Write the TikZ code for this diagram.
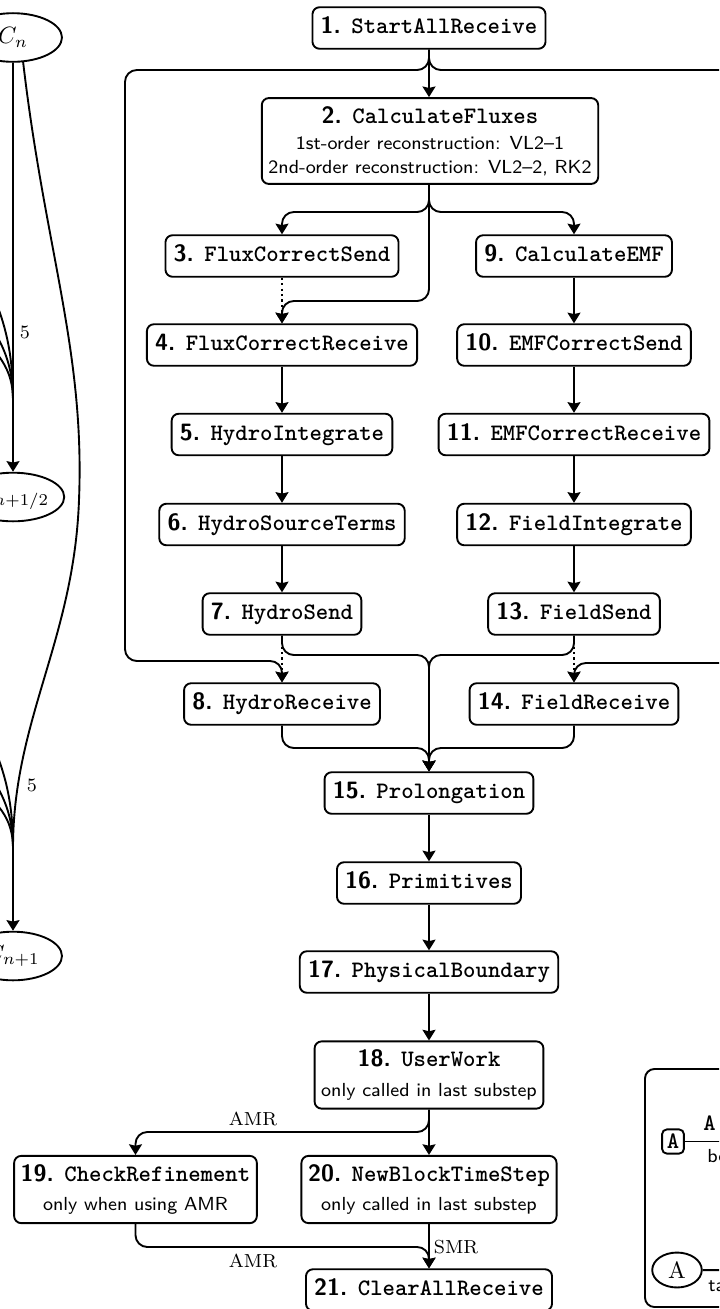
\documentclass[tikz,border=0pt]{standalone}
\usepackage{fontspec}
\usetikzlibrary{arrows.meta,shapes.geometric}
\newcommand{\tasklbl}[2]{{\sffamily\bfseries #1.} {\ttfamily\bfseries #2}}
\begin{document}
\begin{tikzpicture}[x=0.4237pt,y=-0.4237pt,
  task/.style={draw, thick, rounded corners=3pt, fill=white, inner xsep=3.5pt, inner ysep=4.3pt, text height=7pt, text depth=2pt},
  taskm/.style={draw, thick, rounded corners=3pt, fill=white, inner xsep=2.8pt, inner ysep=3.6pt, align=center, font=\footnotesize\sffamily},
  flow/.style={thick, -{Stealth[length=4.5pt,width=5.5pt,inset=0.6pt]}, rounded corners=5pt},
  dots/.style={flow, dash pattern=on 0.9pt off 1.4pt},
  plain/.style={thick},
  cyc/.style={draw, thick, ellipse, minimum width=41.5pt, minimum height=20.6pt, inner sep=0pt},
  lbl/.style={inner sep=0pt, font=\footnotesize}]
\useasboundingbox (0,0) rectangle (719,1309);
\clip (0,0) rectangle (719,1309);

% ---------- left graph (partial) ----------
\node[cyc] (cn) at (13,37.5) {$C_n$};
\node[cyc] (ch) at (13,497) {$C_{n+1/2}$};
\node[cyc] (cf) at (13,956) {$C_{n+1}$};
\coordinate (m1) at (13,400);
\coordinate (m2) at (13,848);
\draw[flow] (cn) -- (ch);
\draw[plain] (-40,240) .. controls (5,300) and (13,350) .. (m1);
\draw[plain] (-40,290) .. controls (0,330) and (13,360) .. (m1);
\draw[plain] (-40,320) .. controls (0,350) and (13,370) .. (m1);
\draw[plain] (23,61) .. controls (45,250) and (85,350) .. (79,500) .. controls (74,640) and (13,720) .. (m2);
\draw[plain] (-40,690) .. controls (5,750) and (13,800) .. (m2);
\draw[plain] (-40,740) .. controls (0,780) and (13,810) .. (m2);
\draw[plain] (-40,775) .. controls (0,800) and (13,820) .. (m2);
\draw[flow] (m2) -- (cf);
\node[lbl] at (25,332) {5};
\node[lbl] at (32,785) {5};

% ---------- tasks ----------
\node[task] (n1) at (429,28) {\tasklbl{1}{StartAllReceive}};
\node[taskm] (n2) at (430,141) {{\normalsize\tasklbl{2}{CalculateFluxes}}\\[1.4pt]1st-order reconstruction: VL2--1\\[0.6pt]2nd-order reconstruction: VL2--2, RK2};
\node[task] (n3) at (282,256) {\tasklbl{3}{FluxCorrectSend}};
\node[task] (n4) at (282,345) {\tasklbl{4}{FluxCorrectReceive}};
\node[task] (n5) at (282,434.5) {\tasklbl{5}{HydroIntegrate}};
\node[task] (n6) at (282,524.5) {\tasklbl{6}{HydroSourceTerms}};
\node[task] (n7) at (282,614) {\tasklbl{7}{HydroSend}};
\node[task] (n8) at (282,704) {\tasklbl{8}{HydroReceive}};
\node[task] (n9) at (574,256) {\tasklbl{9}{CalculateEMF}};
\node[task] (n10) at (574,345) {\tasklbl{10}{EMFCorrectSend}};
\node[task] (n11) at (574,434.5) {\tasklbl{11}{EMFCorrectReceive}};
\node[task] (n12) at (574,524.5) {\tasklbl{12}{FieldIntegrate}};
\node[task] (n13) at (574,614) {\tasklbl{13}{FieldSend}};
\node[task] (n14) at (574,704) {\tasklbl{14}{FieldReceive}};
\node[task] (n15) at (429,793) {\tasklbl{15}{Prolongation}};
\node[task] (n16) at (429,883) {\tasklbl{16}{Primitives}};
\node[task] (n17) at (429,972) {\tasklbl{17}{PhysicalBoundary}};
\node[taskm] (n18) at (429,1075) {{\normalsize\tasklbl{18}{UserWork}}\\[3pt]only called in last substep};
\node[taskm] (n19) at (135.5,1189.5) {{\normalsize\tasklbl{19}{CheckRefinement}}\\[3pt]only when using AMR};
\node[taskm] (n20) at (429,1189.5) {{\normalsize\tasklbl{20}{NewBlockTimeStep}}\\[3pt]only called in last substep};
\node[task] (n21) at (429,1290) {\tasklbl{21}{ClearAllReceive}};

% ---------- connectors ----------
\draw[flow] (n1) -- (n1 |- n2.north);
\draw[flow] (n1.south) |- (125,70) |- (282,661) -- (n8.north);
\draw[flow] (n1.south) |- (740,70) |- (574,663) -- (n14.north);
\draw[flow] (n1.south |- n2.south) |- (282,212) -- (n3.north);
\draw[flow] (n1.south |- n2.south) |- (574,212) -- (n9.north);
\draw[flow] (n1.south |- n2.south) |- (282,301) -- (n4.north);
\draw[dots] (n3) -- (n4);
\draw[flow] (n4) -- (n5);
\draw[flow] (n5) -- (n6);
\draw[flow] (n6) -- (n7);
\draw[dots] (n7) -- (n8);
\draw[flow] (n9) -- (n10);
\draw[flow] (n10) -- (n11);
\draw[flow] (n11) -- (n12);
\draw[flow] (n12) -- (n13);
\draw[dots] (n13) -- (n14);
\draw[flow] (n7.south) |- (429,655) -- (n15.north);
\draw[flow] (n13.south) |- (429,655) -- (n15.north);
\draw[flow] (n8.south) |- (429,748) -- (n15.north);
\draw[flow] (n14.south) |- (429,748) -- (n15.north);
\draw[flow] (n15) -- (n16);
\draw[flow] (n16) -- (n17);
\draw[flow] (n17) -- (n18);
\draw[flow] (n18) -- (n20);
\draw[flow] (n18.south) |- (135.5,1132) -- (n19.north);
\draw[flow] (n19.south) |- (429,1247) -- (n21.north);
\draw[flow] (n20) -- (n21);
\node[lbl] at (253,1119) {AMR};
\node[lbl] at (253,1261) {AMR};
\node[lbl] at (456,1247) {SMR};

% ---------- legend (partial) ----------
\draw[thick, rounded corners=4pt] (645,1069) rectangle (1000,1307);
\node[draw, thick, rounded corners=2pt, inner sep=2pt] (la) at (673,1141.5) {\texttt{\bfseries A}};
\coordinate (lae) at (1000,1141.5);
\draw[thick] (la) -- (lae);
\node[inner sep=0pt, anchor=base west] at (703,1130) {{\ttfamily\bfseries A} (task name)};
\node[inner sep=0pt, anchor=base west, font=\footnotesize\sffamily] at (707,1162) {before};
\node[draw, thick, ellipse, minimum width=21pt, minimum height=14.8pt, inner sep=0pt] (le) at (677,1270) {A};
\coordinate (lee) at (1000,1271);
\draw[thick] (le) -- (lee);
\node[inner sep=0pt, anchor=base west, font=\footnotesize\sffamily] at (708,1291) {task list};
\end{tikzpicture}
\end{document}
